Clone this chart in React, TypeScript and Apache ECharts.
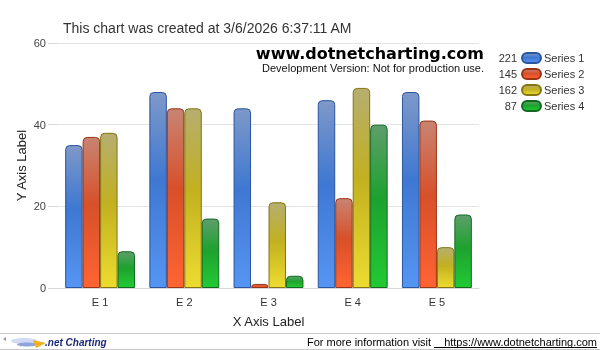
import React, { useEffect, useRef } from "react";
import * as echarts from "echarts";

const categories = ["E 1", "E 2", "E 3", "E 4", "E 5"];
const seriesNames = ["Series 1", "Series 2", "Series 3", "Series 4"];
const series1 = [35, 48, 44, 46, 48];
const series2 = [37, 44, 1, 22, 41];
const series3 = [38, 44, 21, 49, 10];
const series4 = [9, 17, 3, 40, 18];
const yTicks = { min: 0, max: 60, interval: 20 };
const titleText = "This chart was created at 3/6/2026 6:37:11 AM";

const palette = [
  { top: "#7e98c8", mid: "#3f78d2", bot: "#5595f2", border: "#2a55a0" },
  { top: "#c88472", mid: "#d8502a", bot: "#ff6432", border: "#9a3214" },
  { top: "#b6ae70", mid: "#c2b020", bot: "#ecdc30", border: "#857414" },
  { top: "#5e9e6c", mid: "#1ea22e", bot: "#22ca34", border: "#126a20" },
];

const FONT = "Liberation Sans, Arial, sans-serif";
const PILL = "path://M5,0 L14,0 A5,5 0 0 1 14,10 L5,10 A5,5 0 0 1 5,0 Z";

export default function App() {
  const ref = useRef<HTMLDivElement>(null);
  useEffect(() => {
    if (!ref.current) return;
    const chart = echarts.init(ref.current, undefined, { renderer: "svg" });
    const allData = [series1, series2, series3, series4];
    const sums: Record<string, number> = {};
    seriesNames.forEach((n, i) => {
      sums[n] = allData[i].reduce((a, b) => a + b, 0);
    });
    const series = allData.map((d, i) => ({
      name: seriesNames[i],
      type: "bar",
      data: d,
      barGap: "0%",
      barCategoryGap: "17%",
      itemStyle: {
        color: new echarts.graphic.LinearGradient(0, 0, 0, 1, [
          { offset: 0, color: palette[i].top },
          { offset: 0.45, color: palette[i].mid },
          { offset: 1, color: palette[i].bot },
        ]),
        borderColor: palette[i].border,
        borderWidth: 1,
        borderRadius: [4, 4, 0, 0],
      },
    }));
    chart.setOption({
      animation: false,
      textStyle: { fontFamily: FONT },
      grid: { left: 58, right: 121, top: 43, bottom: 62 },
      legend: [
        {
          data: seriesNames,
          orient: "vertical",
          left: 492,
          top: 46,
          align: "right",
          icon: PILL,
          itemWidth: 19,
          itemHeight: 10,
          itemGap: 2,
          selectedMode: false,
          formatter: (n: string) => String(sums[n]),
          textStyle: { fontSize: 11, color: "#333", width: 20, align: "right", lineHeight: 14, fontFamily: FONT },
        },
        {
          data: seriesNames,
          orient: "vertical",
          left: 533,
          top: 46,
          align: "left",
          itemWidth: 1,
          itemHeight: 1,
          itemGap: 2,
          selectedMode: false,
          itemStyle: { color: "rgba(0,0,0,0)", borderColor: "rgba(0,0,0,0)", borderWidth: 0 },
          textStyle: { fontSize: 11, color: "#333", lineHeight: 14, fontFamily: FONT },
        },
      ],
      xAxis: {
        type: "category",
        data: categories,
        name: "X Axis Label",
        nameLocation: "middle",
        nameGap: 27,
        nameTextStyle: { fontSize: 13, color: "#222", fontFamily: FONT },
        axisLine: { lineStyle: { color: "#d8d8d8" } },
        axisTick: { alignWithLabel: true, length: 4, lineStyle: { color: "#bbb" } },
        axisLabel: { fontSize: 11, color: "#333", margin: 8, fontFamily: FONT },
      },
      yAxis: {
        type: "value",
        min: yTicks.min,
        max: yTicks.max,
        interval: yTicks.interval,
        name: "Y Axis Label",
        nameLocation: "middle",
        nameGap: 30,
        nameMoveOverlap: false,
        nameRotate: 90,
        nameTextStyle: { fontSize: 13, color: "#222", fontFamily: FONT },
        axisLine: { show: false },
        axisTick: { show: true, length: 10, lineStyle: { color: "#d8d8d8" } },
        axisLabel: { fontSize: 11, color: "#444", margin: 12, fontFamily: FONT },
        splitLine: { lineStyle: { color: "#e4e4e4" } },
      },
      graphic: [
        {
          type: "text",
          left: 63,
          top: 21,
          style: { text: titleText, fontSize: 14, fill: "#333", fontFamily: FONT },
        },
        {
          type: "text",
          x: 484,
          y: 53,
          style: { text: "www.dotnetcharting.com", fontSize: 16, fontWeight: "bold", fill: "#000", align: "right", verticalAlign: "middle", fontFamily: "DejaVu Sans, Verdana, sans-serif" },
        },
        {
          type: "text",
          x: 484,
          y: 68,
          style: { text: "Development Version: Not for production use.", fontSize: 11, fill: "#111", align: "right", verticalAlign: "middle", fontFamily: FONT },
        },
        { type: "line", shape: { x1: 0, y1: 333.5, x2: 600, y2: 333.5 }, style: { stroke: "#c8c8c8", lineWidth: 1 } },
        { type: "line", shape: { x1: 0, y1: 349.5, x2: 600, y2: 349.5 }, style: { stroke: "#c8c8c8", lineWidth: 1 } },
        {
          type: "polygon",
          shape: { points: [[3, 339], [6, 337], [6, 341]] },
          style: { fill: "#999" },
        },
        {
          type: "ellipse",
          shape: { cx: 24, cy: 341, rx: 13, ry: 3 },
          style: { fill: "#d0daf2" },
        },
        {
          type: "ellipse",
          shape: { cx: 27, cy: 344.5, rx: 10, ry: 2 },
          style: { fill: "#8ea4dc" },
        },
        {
          type: "polygon",
          shape: { points: [[33, 340], [46, 343], [36, 348]] },
          style: { fill: "#f0b020" },
        },
        {
          type: "text",
          x: 45,
          y: 342,
          style: { text: ".net Charting", fontSize: 10, fontWeight: "bold", fontStyle: "italic", fill: "#1c2a78", verticalAlign: "middle", fontFamily: FONT },
        },
        {
          type: "text",
          x: 307,
          y: 342,
          style: { text: "For more information visit", fontSize: 11, fill: "#000", verticalAlign: "middle", fontFamily: FONT },
        },
        {
          type: "text",
          x: 597,
          y: 342,
          style: { text: "https://www.dotnetcharting.com", fontSize: 11, fill: "#000", align: "right", verticalAlign: "middle", fontFamily: FONT },
        },
        { type: "line", shape: { x1: 434, y1: 347.5, x2: 597, y2: 347.5 }, style: { stroke: "#000", lineWidth: 1 } },
      ],
      series,
    });
    return () => chart.dispose();
  }, []);
  return <div ref={ref} style={{ position: "fixed", left: 0, top: 0, width: 600, height: 350 }} />;
}
